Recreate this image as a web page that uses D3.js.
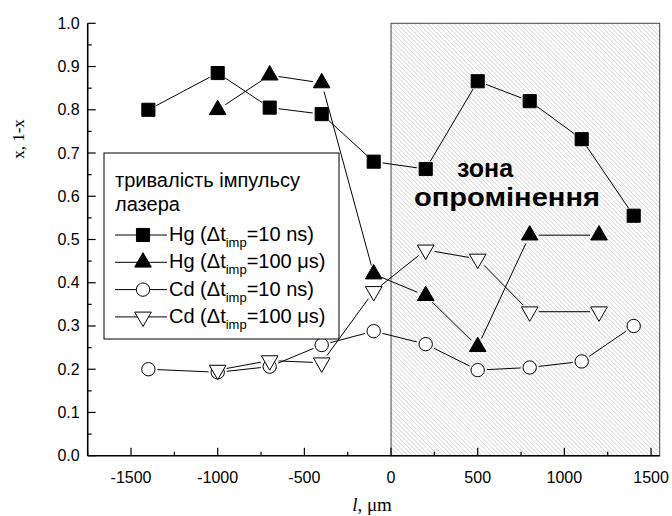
<!DOCTYPE html>
<meta charset="utf-8">
<body style="margin:0">
</body>
<script src="https://d3js.org/d3.v7.min.js"></script>
<script>

// positions along l, um
var hgShortX = [-1400, -1000, -700, -400, -100, 200, 500, 800, 1100, 1400];
var hgShortY = [0.80, 0.885, 0.805, 0.79, 0.68, 0.663, 0.866, 0.82, 0.732, 0.555];
var hgLongX = [-1000, -700, -400, -100, 200, 500, 800, 1200];
var hgLongY = [0.80, 0.88, 0.862, 0.42, 0.37, 0.252, 0.51, 0.51];
var cdShortX = [-1400, -1000, -700, -400, -100, 200, 500, 800, 1100, 1400];
var cdShortY = [0.20, 0.193, 0.206, 0.256, 0.288, 0.258, 0.198, 0.204, 0.218, 0.30];
var cdLongX = [-1000, -700, -400, -100, 200, 500, 800, 1200];
var cdLongY = [0.198, 0.22, 0.215, 0.38, 0.476, 0.455, 0.333, 0.333];

var legendTitle = ["тривалість імпульсу", "лазера"];
var seriesNames = ["Hg", "Hg", "Cd", "Cd"];
var seriesPulse = ["=10 ns)", "=100 μs)", "=10 ns)", "=100 μs)"];

var xTicks = d3.range(-1500, 1501, 500);
var xMinor = d3.range(-1750, 1551, 250);
var yTicks = d3.range(0, 1.001, 0.1);
var yMinor = d3.range(0, 1.001, 0.05);
var zone = [0, 1550];

var width = 672, height = 516;
var x = d3.scaleLinear().domain([-1750, 1550]).range([87.7, 659.7]);
var y = d3.scaleLinear().domain([0, 1]).range([455.7, 23.3]);

var svg = d3.select("body").append("svg")
  .attr("width", width)
  .attr("height", height)
  .style("font-family", "'Liberation Sans', Arial, sans-serif");

// hatch for the irradiation zone
svg.append("defs").append("pattern")
  .attr("id", "hatch")
  .attr("patternUnits", "userSpaceOnUse")
  .attr("width", 3.1)
  .attr("height", 3.1)
  .attr("patternTransform", "rotate(-45)")
  .append("line")
  .attr("x1", 0).attr("y1", 0)
  .attr("x2", 0).attr("y2", 3.1)
  .attr("stroke", "#a4a4a4")
  .attr("stroke-width", 0.7);

svg.append("rect")
  .attr("x", x(zone[0]))
  .attr("y", y(1))
  .attr("width", x(zone[1]) - x(zone[0]))
  .attr("height", y(0) - y(1))
  .attr("fill", "url(#hatch)")
  .attr("stroke", "#444")
  .attr("stroke-width", 1);

var series = [
  {xs: hgShortX, ys: hgShortY, sym: d3.symbolSquare, size: 172, fill: "#000", rot: 0},
  {xs: hgLongX, ys: hgLongY, sym: d3.symbolTriangle, size: 120, fill: "#000", rot: 0},
  {xs: cdShortX, ys: cdShortY, sym: d3.symbolCircle, size: 140, fill: "#fff", rot: 0},
  {xs: cdLongX, ys: cdLongY, sym: d3.symbolTriangle, size: 120, fill: "#fff", rot: 180}
];

var gap = 9;
series.forEach(function(s) {
  var pts = s.xs.map(function(v, i) { return [x(v), y(s.ys[i])]; });
  var segs = [];
  for (var i = 0; i < pts.length - 1; i++) {
    var a = pts[i], b = pts[i + 1];
    var dx = b[0] - a[0], dy = b[1] - a[1];
    var len = Math.sqrt(dx * dx + dy * dy);
    if (len <= 2 * gap) continue;
    var ux = dx / len, uy = dy / len;
    segs.push([a[0] + ux * gap, a[1] + uy * gap, b[0] - ux * gap, b[1] - uy * gap]);
  }
  svg.append("g").selectAll("line")
    .data(segs)
    .enter()
    .append("line")
    .attr("x1", function(d) { return d[0]; })
    .attr("y1", function(d) { return d[1]; })
    .attr("x2", function(d) { return d[2]; })
    .attr("y2", function(d) { return d[3]; })
    .attr("stroke", "#000")
    .attr("stroke-width", 1);
});

series.forEach(function(s) {
  svg.append("g").selectAll("path")
    .data(s.xs)
    .enter()
    .append("path")
    .attr("d", d3.symbol().type(s.sym).size(s.size))
    .attr("transform", function(d, i) {
      return "translate(" + x(d) + "," + y(s.ys[i]) + ") rotate(" + s.rot + ")";
    })
    .attr("fill", s.fill)
    .attr("stroke", "#000")
    .attr("stroke-width", 1);
});

// zone label
svg.append("text")
  .attr("x", 457)
  .attr("y", 177)
  .attr("font-weight", "bold")
  .attr("font-size", 25)
  .text("зона");
svg.append("text")
  .attr("x", 414)
  .attr("y", 206)
  .attr("font-weight", "bold")
  .attr("font-size", 25)
  .attr("textLength", 186)
  .attr("lengthAdjust", "spacingAndGlyphs")
  .text("опромінення");

// legend
var legend = svg.append("g");
legend.append("rect")
  .attr("x", 104).attr("y", 153)
  .attr("width", 235).attr("height", 186)
  .attr("fill", "#fff")
  .attr("stroke", "#000")
  .attr("stroke-width", 1);

legend.selectAll(".title")
  .data(legendTitle)
  .enter()
  .append("text")
  .attr("class", "title")
  .attr("x", 115)
  .attr("y", function(d, i) { return 187 + i * 24; })
  .attr("font-size", 20)
  .text(function(d) { return d; });

series.forEach(function(s, i) {
  var cy = 235 + i * 27.3;
  legend.append("line")
    .attr("x1", 115).attr("x2", 167)
    .attr("y1", cy).attr("y2", cy)
    .attr("stroke", "#000").attr("stroke-width", 1);
  legend.append("path")
    .attr("d", d3.symbol().type(s.sym).size(s.size))
    .attr("transform", "translate(143," + cy + ") rotate(" + s.rot + ")")
    .attr("fill", s.fill)
    .attr("stroke", "#000")
    .attr("stroke-width", 1);
  var t = legend.append("text")
    .attr("x", 169)
    .attr("y", cy + 6)
    .attr("font-size", 20);
  t.append("tspan").text(seriesNames[i] + " (Δt");
  t.append("tspan").attr("font-size", 13).attr("dy", 6).text("imp");
  t.append("tspan").attr("dy", -6).text(seriesPulse[i]);
});

// axes, ticks inside
var xAxis = svg.append("g")
  .attr("transform", "translate(0," + y(0) + ")");
xAxis.append("line")
  .attr("x1", x(-1750)).attr("x2", x(1550))
  .attr("stroke", "#000").attr("stroke-width", 1.6);
xAxis.selectAll(".minor")
  .data(xMinor)
  .enter()
  .append("line")
  .attr("x1", function(d) { return x(d); })
  .attr("x2", function(d) { return x(d); })
  .attr("y1", 0)
  .attr("y2", function(d) { return xTicks.indexOf(d) >= 0 ? -8 : -4; })
  .attr("stroke", "#000").attr("stroke-width", 1.2);
xAxis.selectAll(".lab")
  .data(xTicks)
  .enter()
  .append("text")
  .attr("x", function(d) { return x(d); })
  .attr("y", 27)
  .attr("text-anchor", "middle")
  .attr("font-size", 16)
  .text(function(d) { return d; });

var yAxis = svg.append("g")
  .attr("transform", "translate(" + x(-1750) + ",0)");
yAxis.append("line")
  .attr("y1", y(0)).attr("y2", y(1))
  .attr("stroke", "#000").attr("stroke-width", 1.6);
yAxis.selectAll(".minor")
  .data(yMinor)
  .enter()
  .append("line")
  .attr("y1", function(d) { return y(d); })
  .attr("y2", function(d) { return y(d); })
  .attr("x1", 0)
  .attr("x2", function(d, i) { return i % 2 == 0 ? 8 : 4; })
  .attr("stroke", "#000").attr("stroke-width", 1.2);
yAxis.selectAll(".lab")
  .data(yTicks)
  .enter()
  .append("text")
  .attr("x", -8)
  .attr("y", function(d) { return y(d) + 5.5; })
  .attr("text-anchor", "end")
  .attr("font-size", 16)
  .text(function(d) { return d.toFixed(1); });

// axis titles
svg.append("text")
  .attr("transform", "translate(24,139) rotate(-90)")
  .attr("text-anchor", "middle")
  .attr("font-family", "'Liberation Serif', 'Times New Roman', serif")
  .attr("font-size", 17)
  .text("x, 1-x");

var xTitle = svg.append("text")
  .attr("x", 372)
  .attr("y", 511)
  .attr("text-anchor", "middle")
  .attr("font-family", "'Liberation Serif', 'Times New Roman', serif")
  .attr("font-size", 19);
xTitle.append("tspan").attr("font-style", "italic").text("l");
xTitle.append("tspan").text(", μm");

</script>
